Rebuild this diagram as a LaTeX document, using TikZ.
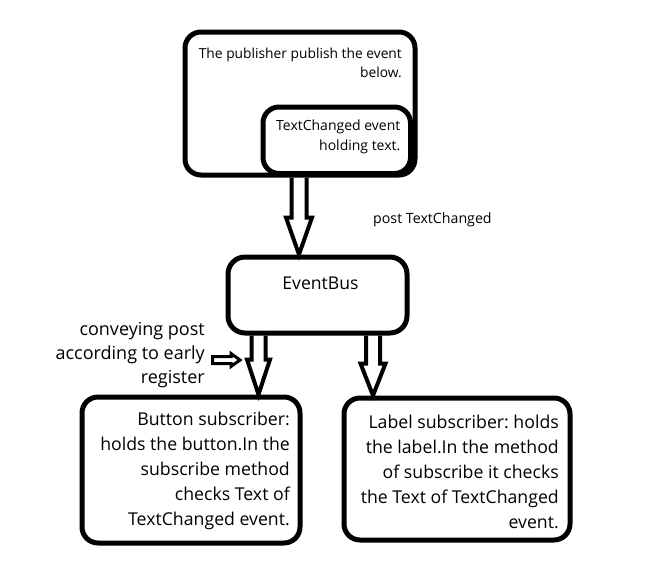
\documentclass[tikz,border=0pt]{standalone}
\usepackage{fontspec}
\setmainfont{Open Sans}
\frenchspacing
\usetikzlibrary{calc}
\newcommand\fatarrow[5]{%
  \draw[fat] let \p1=(#1), \p2=(#2) in
    (\x1-#3,\y1) -- (\x1-#3,\y2+#5) -- (\x1-#4,\y2+#5) -- (\x2,\y2)
    -- (\x1+#4,\y2+#5) -- (\x1+#3,\y2+#5) -- (\x1+#3,\y1);}
\begin{document}
\begin{tikzpicture}[x=1pt,y=-1pt,
  box/.style={draw, line width=5pt, rounded corners=16pt, inner sep=0pt, anchor=north west},
  txt/.style={inner sep=0pt, text width=240pt, align=flush right, anchor=north east},
  line/.style={inner sep=0pt, anchor=base east},
  fat/.style={draw, line width=4pt, line join=miter, miter limit=10},
]
\useasboundingbox (0,0) rectangle (665,581);
% boxes
\node[box, minimum width=230pt, minimum height=143pt] (pub) at (182.5,29.5) {};
\node[box, minimum width=147.5pt, minimum height=66.5pt] (ev) at (260.5,104.5) {};
\node[box, minimum width=179pt, minimum height=76pt, rounded corners=17pt] (bus) at (225.5,254.5) {};
\node[box, minimum width=218pt, minimum height=146pt] (btn) at (79.5,394.5) {};
\node[box, minimum width=226pt, minimum height=142pt] (lbl) at (341.5,395.5) {};
% texts
\node[line, font=\fontsize{13.8}{19}\selectfont] (pubtxta) at (402,58) {The publisher publish the event};
\node[line, font=\fontsize{13.8}{19}\selectfont] (pubtxtb) at (402,77) {below.};
\node[line, font=\fontsize{14}{20}\selectfont] (evtxta) at (400.5,130) {TextChanged event};
\node[line, font=\fontsize{14}{20}\selectfont] (evtxtb) at (400.5,150) {holding text.};
\node[inner sep=0pt, anchor=base, font=\fontsize{17.6}{20}\selectfont] (bustxt) at (320.5,289) {EventBus};
\node[inner sep=0pt, anchor=base west, font=\fontsize{14.2}{18}\selectfont] (post) at (373,223) {post TextChanged};
\node[txt, font=\fontsize{18}{24}\selectfont] (conv) at (205,321.8) {conveying post\\according to early\\register};
\node[txt, font=\fontsize{17.7}{25}\selectfont] (btntxt) at (290,412) {Button subscriber:\\holds the button.In the\\subscribe method\\checks Text of\\TextChanged event.};
\node[txt, font=\fontsize{17.7}{25}\selectfont] (lbltxt) at (559,415) {Label subscriber: holds\\the label.In the method\\of subscribe it checks\\the Text of TextChanged\\event.};
% arrows
\coordinate (x1) at (299,0);
\coordinate (x2) at (258.5,0);
\coordinate (x3) at (373,0);
\fatarrow{x1 |- pub.south}{x1 |- bus.north}{7.5pt}{13pt}{37pt}
\fatarrow{x2 |- bus.south}{x2 |- btn.north}{7pt}{11.5pt}{35pt}
\fatarrow{x3 |- bus.south}{x3 |- lbl.north}{7pt}{12.5pt}{32pt}
% small arrow
\coordinate (sa) at (212.5,360);
\coordinate (sb) at (240,360);
\draw[line width=3pt, line join=miter] let \p1=(sa), \p2=(sb) in
  (\x1,\y1+3.5pt) -- (\x2-9pt,\y1+3.5pt) -- (\x2-9pt,\y1+6.5pt) -- (\x2,\y1)
  -- (\x2-9pt,\y1-6.5pt) -- (\x2-9pt,\y1-3.5pt) -- (\x1,\y1-3.5pt) -- cycle;
\end{tikzpicture}
\end{document}
